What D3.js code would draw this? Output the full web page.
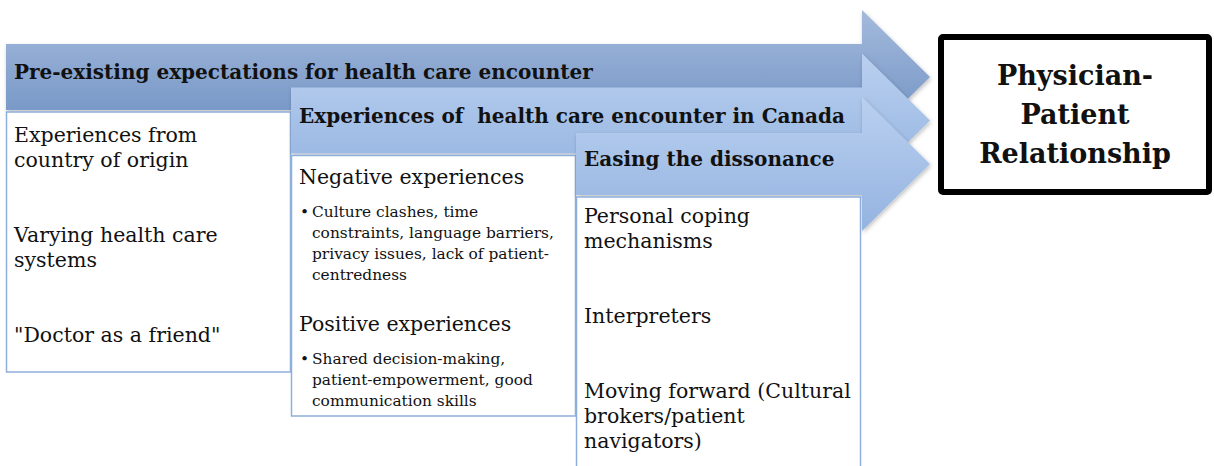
<!DOCTYPE html>
<html>
<head>
<meta charset="utf-8">
<script src="https://cdn.jsdelivr.net/npm/d3@7"></script>
<style>
  body { margin: 0; background: #fff; }
  svg { display: block; }
  text { white-space: pre; }
  .head { font-family: 'DejaVu Serif', serif; font-weight: bold; font-size: 20px; fill: #111; }
  .item { font-family: 'DejaVu Serif', serif; font-size: 20.5px; fill: #111; }
  .bullet { font-family: 'DejaVu Serif', serif; font-size: 15.4px; fill: #111; }
  .outcome { font-family: 'DejaVu Serif', serif; font-weight: bold; font-size: 27px; fill: #111; }
</style>
</head>
<body>
<svg class="flow" width="1214" height="466"></svg>
<script>
// stage headers (one arrow each)
const stages = [
  'Pre-existing expectations for health care encounter',
  'Experiences of  health care encounter in Canada',
  'Easing the dissonance'
];
// box contents
const originItems = [
  ['Experiences from', 'country of origin'],
  ['Varying health care', 'systems'],
  ['"Doctor as a friend"']
];
const negativeLines = ['Culture clashes, time', 'constraints, language barriers,', 'privacy issues, lack of patient-', 'centredness'];
const positiveLines = ['Shared decision-making,', 'patient-empowerment, good', 'communication skills'];
const easingItems = [
  ['Personal coping', 'mechanisms'],
  ['Interpreters'],
  ['Moving forward (Cultural', 'brokers/patient', 'navigators)']
];
const outcomeLines = ['Physician-', 'Patient', 'Relationship'];

const svg = d3.select('svg.flow');

// column lefts and arrow centre lines
const x = d3.scaleLinear().domain([0, 3]).range([6, 861]);
const cy = d3.scaleLinear().domain([0, 2]).range([77, 164]);
const bodyHalf = [33, 33, 31];
const headHalf = 67;
const tipX = 930;
const boxBottom = [372, 416, 470];

const defs = svg.append('defs');
const grads = [['#a4badc', '#6b8ec1'], ['#bad0f0', '#92b2df'], ['#bad0f0', '#94b3e0']];
grads.forEach((c, i) => {
  const g = defs.append('linearGradient').attr('id', 'g' + i)
    .attr('x1', 0).attr('y1', 0).attr('x2', 0).attr('y2', 1);
  g.append('stop').attr('offset', '0%').attr('stop-color', c[0]);
  g.append('stop').attr('offset', '100%').attr('stop-color', c[1]);
});
const sh = defs.append('filter').attr('id', 'shadow')
  .attr('x', '-5%').attr('y', '-20%').attr('width', '110%').attr('height', '140%');
sh.append('feDropShadow').attr('dx', 1).attr('dy', 2).attr('stdDeviation', 2)
  .attr('flood-color', '#000').attr('flood-opacity', 0.25);

const arrowPath = (i) => {
  const x0 = x(i), x1 = x(3) + 1, c = cy(i), b = bodyHalf[i];
  return d3.line()([
    [x0, c - b], [x1, c - b], [x1, c - headHalf], [tipX, c],
    [x1, c + headHalf], [x1, c + b], [x0, c + b]
  ]) + 'Z';
};

stages.forEach((title, i) => {
  const g = svg.append('g');
  g.append('path')
    .attr('d', arrowPath(i))
    .attr('fill', 'url(#g' + i + ')')
    .attr('filter', 'url(#shadow)');
  g.append('text')
    .attr('class', 'head')
    .attr('x', x(i) + 8)
    .attr('y', cy(i) + 2)
    .text(title);

  const top = cy(i) + bodyHalf[i] + 2;
  g.append('rect')
    .attr('x', x(i) + 0.5)
    .attr('y', top)
    .attr('width', x(i + 1) - x(i) - 1)
    .attr('height', boxBottom[i] - top)
    .attr('fill', '#fff')
    .attr('stroke', '#8eafdb')
    .attr('stroke-width', 1.5);
});

// item groups separated by a fixed gap
function drawItems(col, groups, firstBase) {
  let y = firstBase;
  groups.forEach((lines, k) => {
    if (k > 0) y += 75;
    lines.forEach((line, j) => {
      if (j > 0) y += 25;
      svg.append('text').attr('class', 'item')
        .attr('x', x(col) + 8).attr('y', y).text(line);
    });
  });
}
drawItems(0, originItems, cy(0) + bodyHalf[0] + 32);
drawItems(2, easingItems, cy(2) + bodyHalf[2] + 28);

// middle box: headings with bullet lists
function drawBulleted(head, lines, base) {
  svg.append('text').attr('class', 'item')
    .attr('x', x(1) + 8).attr('y', base).text(head);
  svg.append('text').attr('class', 'bullet')
    .attr('x', x(1) + 9).attr('y', base + 33).text('•');
  lines.forEach((line, j) => {
    svg.append('text').attr('class', 'bullet')
      .attr('x', x(1) + 21).attr('y', base + 33 + j * 21).text(line);
  });
}
const midTop = cy(1) + bodyHalf[1] + 2;
drawBulleted('Negative experiences', negativeLines, midTop + 28);
drawBulleted('Positive experiences', positiveLines, midTop + 175);

// outcome box
const ob = { x: 941, y: 37, w: 268, h: 155 };
svg.append('rect')
  .attr('x', ob.x).attr('y', ob.y).attr('width', ob.w).attr('height', ob.h)
  .attr('rx', 2)
  .attr('fill', '#fff').attr('stroke', '#000').attr('stroke-width', 6);
outcomeLines.forEach((line, j) => {
  svg.append('text').attr('class', 'outcome')
    .attr('x', ob.x + ob.w / 2).attr('y', ob.y + 48 + j * 39)
    .attr('text-anchor', 'middle').text(line);
});
</script>
</body>
</html>
